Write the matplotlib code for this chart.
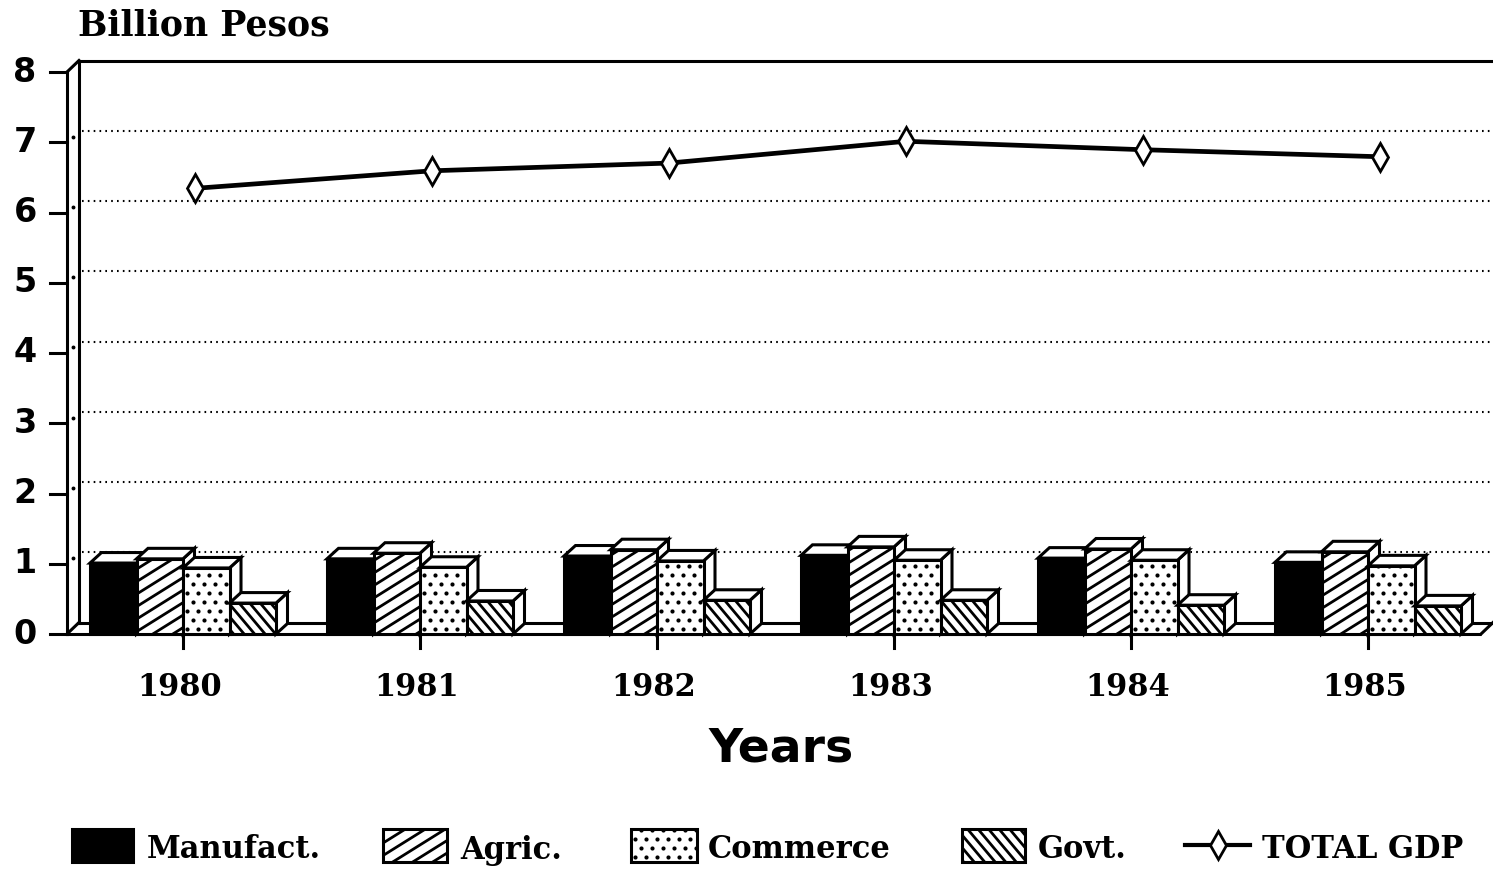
import numpy as np
import matplotlib
matplotlib.use("Agg")
import matplotlib.pyplot as plt
from matplotlib.patches import Polygon, Rectangle
from matplotlib.collections import LineCollection

# ---------------- data ----------------
years = ["1980", "1981", "1982", "1983", "1984", "1985"]
manufact = [1.01, 1.07, 1.11, 1.12, 1.08, 1.02]
agric = [1.07, 1.15, 1.20, 1.24, 1.21, 1.17]
commerce = [0.94, 0.95, 1.04, 1.05, 1.05, 0.97]
govt = [0.44, 0.47, 0.48, 0.48, 0.41, 0.40]
total_gdp = [6.18, 6.43, 6.54, 6.85, 6.73, 6.63]
yticks = [0, 1, 2, 3, 4, 5, 6, 7, 8]
series_names = ["Manufact.", "Agric.", "Commerce", "Govt."]
line_name = "TOTAL GDP"
y_title = "Billion Pesos"
x_title = "Years"

# ---------------- geometry (pixel layout) ----------------
W, H = 1493, 869
X0, SX = 183.0, 237.0      # pixel x of first category, pixels per category
Y0, SY = 634.0, 70.25      # pixel y of value 0, pixels per unit


def px2x(px):
    return (px - X0) / SX


def py2v(py):
    return (Y0 - py) / SY


def to_px(x, v):
    return X0 + x * SX, Y0 - v * SY


fig = plt.figure(figsize=(W / 100, H / 100), dpi=100)
ax = fig.add_axes([0, 0, 1, 1])
ax.set_xlim(px2x(0), px2x(W))
ax.set_ylim(py2v(H), py2v(0))
ax.axis("off")

LW = 2.2
DXF, DYF = 12 / SX, 11.5 / SY      # floor / wall depth
DXB, DYB = 11.5 / SX, 10.5 / SY    # bar depth
BW = 46.5 / SX                     # bar width
xmax_floor = px2x(1481)
ytop = yticks[-1]

# ---------------- walls / floor ----------------
ax.plot([px2x(66), xmax_floor], [0, 0], color="black", lw=LW, zorder=2,
        solid_capstyle="butt")
ax.plot([px2x(66) + DXF, px2x(W)], [DYF, DYF], color="black", lw=LW, zorder=2)
ax.plot([xmax_floor, xmax_floor + DXF], [0, DYF], color="black", lw=LW, zorder=2)
xl = px2x(67)
ax.plot([xl, xl], [0, ytop], color="black", lw=LW, zorder=2)
ax.plot([xl + DXF, xl + DXF], [DYF, ytop + DYF], color="black", lw=LW, zorder=2)
ax.plot([xl, xl + DXF], [ytop, ytop + DYF], color="black", lw=LW, zorder=2)
ax.plot([xl, xl + DXF], [0, DYF], color="black", lw=LW, zorder=2)
ax.plot([xl + DXF, px2x(W)], [ytop + DYF, ytop + DYF], color="black", lw=LW, zorder=2)

# gridlines on back wall
for k in yticks[1:-1]:
    ax.plot([xl + DXF + 3 / SX, px2x(W)], [k + DYF, k + DYF], color="black",
            lw=1.5, linestyle=(0, (0.8, 2.0)), zorder=1.5)
    ax.plot([xl + DXF / 2], [k + DYF / 2], marker="o", ms=1.8, color="black", zorder=2)

# y ticks and labels
for k in yticks:
    ax.plot([px2x(50), xl], [k, k], color="black", lw=LW, zorder=2)
    ax.text(px2x(25), k, str(k), ha="center", va="center", fontsize=24,
            fontweight="bold", family="DejaVu Sans", zorder=3)

# x ticks and labels
for i, yr in enumerate(years):
    ax.plot([i, i], [0, py2v(648)], color="black", lw=LW, zorder=2)
    ax.text(i - 3 / SX, py2v(688), yr, ha="center", va="center", fontsize=22,
            fontweight="bold", family="DejaVu Serif", zorder=3)

ax.text(px2x(78), py2v(25), y_title, ha="left", va="center", fontsize=25,
        fontweight="bold", family="DejaVu Serif")
ax.text(px2x(781), py2v(749), x_title, ha="center", va="center", fontsize=34,
        fontweight="bold", family="DejaVu Sans")


# ---------------- hatch helpers ----------------
def hatch_lines(patch, bbox_px, angle_deg, spacing_px, z, lw=2.0):
    """Draw parallel lines (in pixel space) clipped to patch."""
    x0, y0, x1, y1 = bbox_px
    th = np.deg2rad(angle_deg)
    d = np.array([np.cos(th), -np.sin(th)])  # pixel dir, y down
    n = np.array([-d[1], d[0]])
    cx, cy = (x0 + x1) / 2, (y0 + y1) / 2
    R = np.hypot(x1 - x0, y1 - y0)
    segs = []
    perp = spacing_px * abs(np.sin(th)) if abs(np.sin(th)) > 1e-6 else spacing_px
    for t in np.arange(-R, R + perp, perp):
        p = np.array([cx, cy]) + n * t
        a = p - d * R
        b = p + d * R
        segs.append([(px2x(a[0]), py2v(a[1])), (px2x(b[0]), py2v(b[1]))])
    lc = LineCollection(segs, colors="black", linewidths=lw, zorder=z)
    ax.add_collection(lc)
    lc.set_clip_path(patch)


def hatch_dots(patch, bbox_px, z, sx=11.0, sy=9.0, ms=3.0):
    x0, y0, x1, y1 = bbox_px
    xs, ys = [], []
    for r, yy in enumerate(np.arange(y1 - 5, y0 - sy, -sy)):
        off = (sx / 2) * (r % 2)
        for xx in np.arange(x0 + 4 + off, x1 + sx, sx):
            xs.append(px2x(xx))
            ys.append(py2v(yy))
    pts, = ax.plot(xs, ys, linestyle="none", marker="o", ms=ms, color="black",
                   markeredgewidth=0, zorder=z)
    pts.set_clip_path(patch)


def fill_face(kind, x, w, v0, v1, z):
    """Front face rectangle with the series fill pattern."""
    fc = "black" if kind == 0 else "white"
    rect = Rectangle((x, v0), w, v1 - v0, facecolor=fc, edgecolor="none", zorder=z)
    ax.add_patch(rect)
    pxa, pya = to_px(x, v1)
    pxb, pyb = to_px(x + w, v0)
    bb = (pxa, pya, pxb, pyb)
    if kind == 1:
        hatch_lines(rect, bb, 32, 20, z + 0.1, lw=2.0)
    elif kind == 2:
        hatch_dots(rect, bb, z + 0.1)
    elif kind == 3:
        hatch_lines(rect, bb, -50, 10.5, z + 0.1, lw=2.0)
    outline = Rectangle((x, v0), w, v1 - v0, facecolor="none", edgecolor="black",
                        lw=LW, zorder=z + 0.2, joinstyle="miter")
    ax.add_patch(outline)


def bar3d(kind, x, w, h, z):
    side = Polygon([(x + w, 0), (x + w + DXB, DYB), (x + w + DXB, h + DYB), (x + w, h)],
                   closed=True, facecolor="white", edgecolor="black", lw=LW,
                   zorder=z, joinstyle="miter")
    top = Polygon([(x, h), (x + DXB, h + DYB), (x + w + DXB, h + DYB), (x + w, h)],
                  closed=True, facecolor="white", edgecolor="black", lw=LW,
                  zorder=z, joinstyle="miter")
    ax.add_patch(side)
    ax.add_patch(top)
    fill_face(kind, x, w, 0, h, z + 0.01)


# ---------------- bars ----------------
series = [manufact, agric, commerce, govt]
z = 5
for i in range(len(years)):
    for s, vals in enumerate(series):
        x = i - 2 * BW + s * BW
        bar3d(s, x, BW, vals[i], z)
        z += 1

# ---------------- total GDP line (on back plane) ----------------
xs = np.arange(len(years)) + DXF
ax.plot(xs, np.array(total_gdp) + DYF, color="black", lw=3.4, zorder=4,
        marker="d", ms=14, mfc="white", mec="black", mew=2.0)

# ---------------- legend ----------------
leg_y0, leg_y1 = py2v(862), py2v(829)
swatches = [(72, 133), (383, 447), (631, 697), (962, 1025)]
text_x = [147, 460, 708, 1038]
for s, ((a, b), tx) in enumerate(zip(swatches, text_x)):
    fill_face(s, px2x(a), px2x(b) - px2x(a), leg_y0, leg_y1, 200)
    ax.text(px2x(tx), py2v(850), series_names[s], ha="left", va="center",
            fontsize=22, fontweight="bold", family="DejaVu Serif")
ax.plot([px2x(1185), px2x(1250)], [py2v(845), py2v(845)], color="black", lw=3.0,
        zorder=200)
ax.plot([px2x(1218)], [py2v(845)], marker="d", ms=14, mfc="white", mec="black",
        mew=2.0, zorder=201)
ax.text(px2x(1262), py2v(850), line_name, ha="left", va="center", fontsize=22,
        fontweight="bold", family="DejaVu Serif")

fig.savefig("out.png", dpi=100)
